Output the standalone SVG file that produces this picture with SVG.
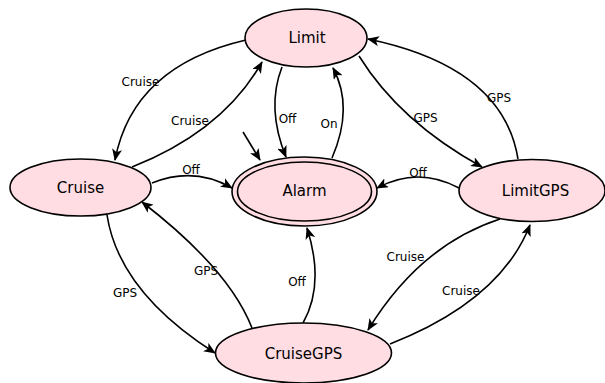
<svg xmlns="http://www.w3.org/2000/svg" width="605" height="383" viewBox="0 0 605 383">
<style>
.node{fill:#ffdde3;stroke:#000;stroke-width:1.6}
.nl{font-family:"DejaVu Sans",sans-serif;font-size:15px;text-anchor:middle;fill:#000}
.el{font-family:"DejaVu Sans",sans-serif;font-size:12px;text-anchor:middle;fill:#000}
.edge{fill:none;stroke:#000;stroke-width:1.6;marker-end:url(#arr)}
</style>
<defs>
<marker id="arr" viewBox="0 0 12 10" refX="11" refY="5" markerWidth="12" markerHeight="10" markerUnits="userSpaceOnUse" orient="auto">
<path d="M0,0 L12,5 L0,10 L3,5 Z" fill="#000"/>
</marker>
</defs>
<rect width="605" height="383" fill="#fff"/>
<g id="connectors">
<path class="edge" d="M246,40 Q133,66 115,160"/>
<path class="edge" d="M132,167 Q223,131 262,62"/>
<path class="edge" d="M282,67 Q266,108 286,157"/>
<path class="edge" d="M332,158 Q354,107 333,68"/>
<path class="edge" d="M243,132 L260,160"/>
<path class="edge" d="M152,183 Q194,166 232,188"/>
<path class="edge" d="M359,56 Q400,122 482,167"/>
<path class="edge" d="M518,159 Q503,67 368,39"/>
<path class="edge" d="M459,188 Q418,166 377,188"/>
<path class="edge" d="M107,215 Q119,292 215,353"/>
<path class="edge" d="M252,328 Q229,269 142,202"/>
<path class="edge" d="M303,323 Q325,284 307,228"/>
<path class="edge" d="M500,219 Q420,245 368,330"/>
<path class="edge" d="M390,344 Q500,301 530,225"/>
<text class="el" x="140.5" y="86">Cruise</text>
<text class="el" x="190" y="125">Cruise</text>
<text class="el" x="287.5" y="123">Off</text>
<text class="el" x="329" y="128">On</text>
<text class="el" x="191" y="174">Off</text>
<text class="el" x="425.5" y="122">GPS</text>
<text class="el" x="499" y="102">GPS</text>
<text class="el" x="418" y="177">Off</text>
<text class="el" x="125" y="297">GPS</text>
<text class="el" x="206" y="275">GPS</text>
<text class="el" x="297" y="286">Off</text>
<text class="el" x="405.5" y="261">Cruise</text>
<text class="el" x="461" y="295">Cruise</text>
</g>
<g id="Limit">
<ellipse class="node" cx="306" cy="38" rx="61" ry="29"/>
<text class="nl" x="307" y="43">Limit</text>
</g>
<g id="Cruise">
<ellipse class="node" cx="80.5" cy="187.5" rx="70.5" ry="28.5"/>
<text class="nl" x="80.5" y="193">Cruise</text>
</g>
<g id="Alarm">
<ellipse class="node" cx="304.5" cy="191.5" rx="72.5" ry="34.5"/>
<ellipse class="node" cx="304.5" cy="191.5" rx="67" ry="29.5"/>
<text class="nl" x="304.5" y="196">Alarm</text>
</g>
<g id="LimitGPS">
<ellipse class="node" cx="532" cy="190.5" rx="73" ry="31"/>
<text class="nl" x="535.5" y="196">LimitGPS</text>
</g>
<g id="CruiseGPS">
<ellipse class="node" cx="303.5" cy="353" rx="88" ry="30"/>
<text class="nl" x="303.5" y="359">CruiseGPS</text>
</g>
</svg>
